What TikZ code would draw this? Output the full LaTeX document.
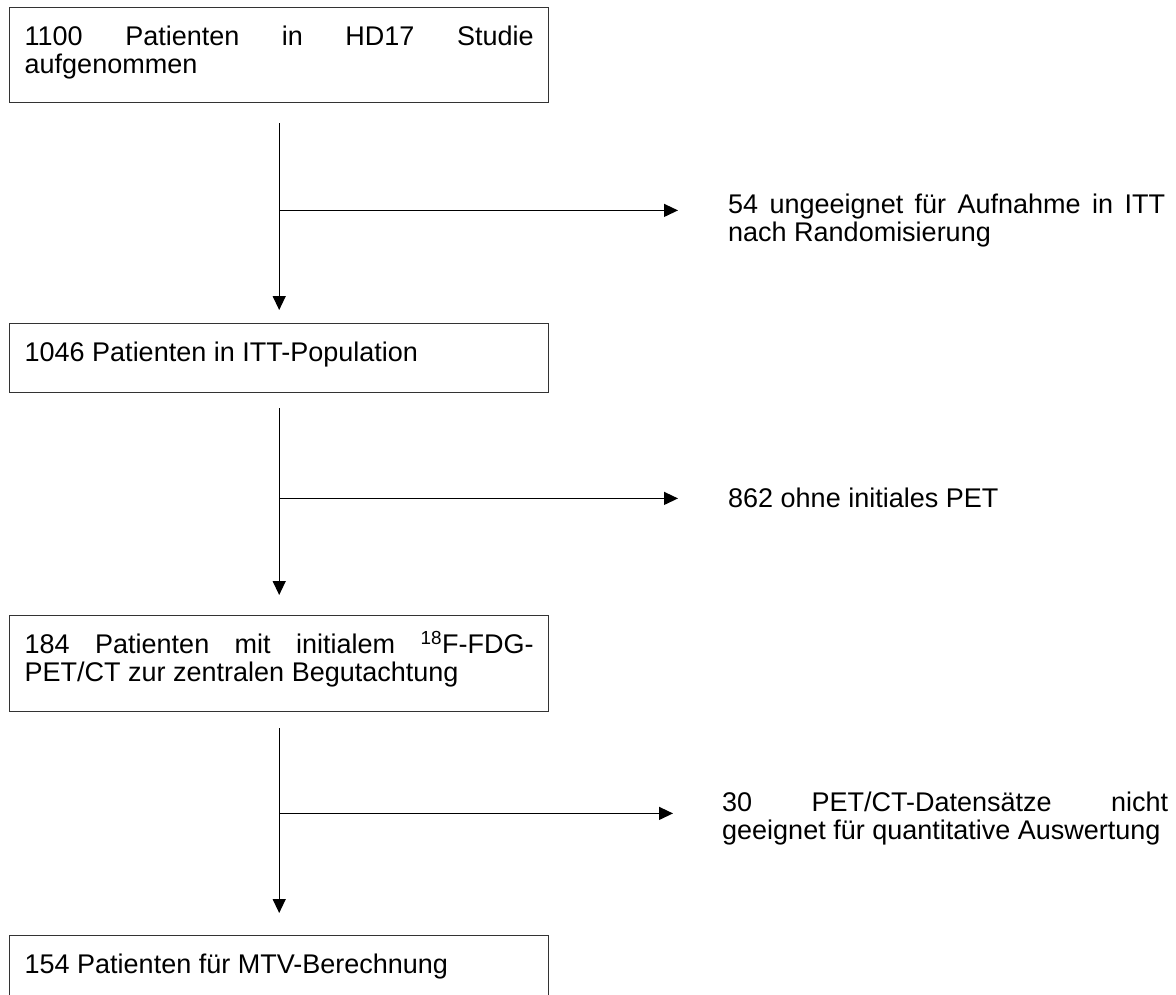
\documentclass[tikz,border=0pt]{standalone}
\usepackage{fontspec}
\setmainfont{Liberation Sans}
\usetikzlibrary{arrows.meta}
\tolerance=10000
\hbadness=10000
\hfuzz=10pt
\begin{document}
\begin{tikzpicture}[x=1pt,y=-1pt,
  every node/.style={font=\fontsize{27}{28}\selectfont, inner sep=0pt},
  flowbox/.style={draw=black!80, line width=1.4pt, inner xsep=15pt, inner ysep=0pt, anchor=north west},
  sidelabel/.style={anchor=base west},
  flowarrow/.style={line width=1.3pt, -{Triangle[length=14pt,width=13pt]}}]
\useasboundingbox (0,0) rectangle (1176,994);
\clip (0,0) rectangle (1176,994);

\node[flowbox] (b1) at (9,7) {\parbox[t][95pt][t]{509pt}{\rule{0pt}{38pt}\makebox[509pt][s]{1100 Patienten in HD17 Studie}\\aufgenommen}};
\node[flowbox] (b2) at (9,323) {\parbox[t][69pt][t]{509pt}{\rule{0pt}{38pt}1046 Patienten in ITT-Population}};
\node[flowbox] (b3) at (9,615) {\parbox[t][96pt][t]{509pt}{\rule{0pt}{38pt}\makebox[509pt][s]{184 Patienten mit initialem \textsuperscript{18}F-FDG-}\\PET/CT zur zentralen Begutachtung}};
\node[flowbox] (b4) at (9,935) {\parbox[t][100pt][t]{509pt}{\rule{0pt}{38pt}154 Patienten für MTV-Berechnung}};

\node[sidelabel] (l1) at (728,213) {\parbox[t]{437pt}{\makebox[437pt][s]{54 ungeeignet für Aufnahme in ITT}\\nach Randomisierung}};
\node[sidelabel] (l2) at (728,507) {862 ohne initiales PET};
\node[sidelabel] (l3) at (722,811) {\parbox[t]{446pt}{\makebox[446pt][s]{30 PET/CT-Datensätze nicht}\\geeignet für quantitative Auswertung}};

\path (b1.south) ++(0,107) coordinate (j1);
\path (b2.south) ++(0,105) coordinate (j2);
\path (b3.south) ++(0,101) coordinate (j3);

\draw[flowarrow, shorten <=20pt, shorten >=13pt] (b1.south) -- (b2.north);
\draw[flowarrow, shorten <=15pt, shorten >=20pt] (b2.south) -- (b3.north);
\draw[flowarrow, shorten <=16pt, shorten >=22pt] (b3.south) -- (b4.north);

\draw[flowarrow, shorten >=50pt] (j1) -- (j1 -| l1.west);
\draw[flowarrow, shorten >=50pt] (j2) -- (j2 -| l2.west);
\draw[flowarrow, shorten >=49pt] (j3) -- (j3 -| l3.west);
\end{tikzpicture}
\end{document}
